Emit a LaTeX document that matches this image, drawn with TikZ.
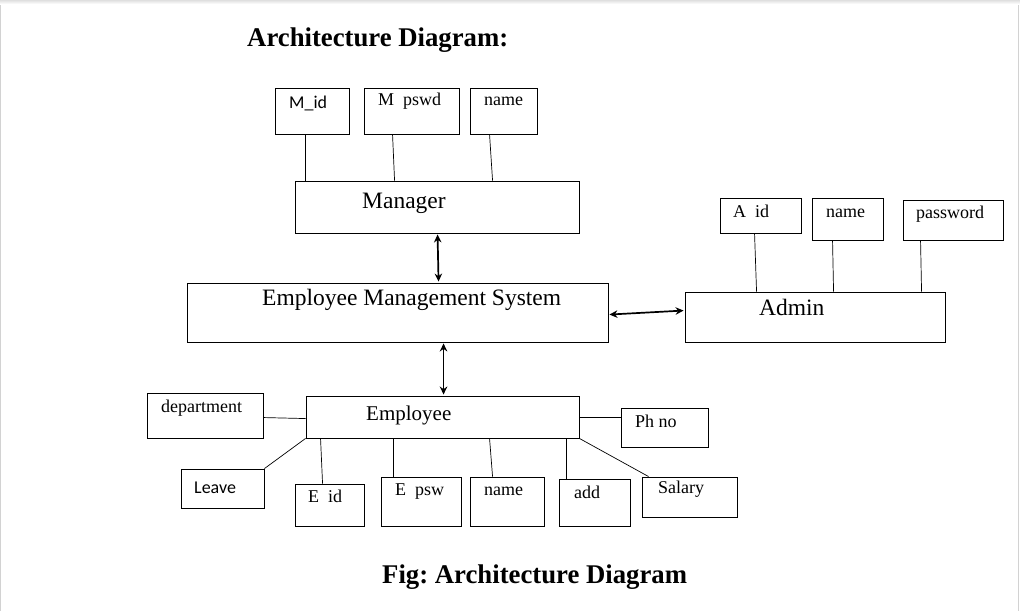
\documentclass[tikz,border=0pt]{standalone}
\usepackage{fontspec}
\setmainfont{Liberation Serif}
\newfontfamily\calfont{Carlito}
\usetikzlibrary{arrows.meta,calc}
\frenchspacing
\newcommand\rbox[5]{\node[ebox, minimum width={(#4-#2)*1pt}, minimum height={(#5-#3)*1pt}] (#1) at ({(#2+#4)/2},{(#3+#5)/2}) {};}
\begin{document}
\begin{tikzpicture}[x=1pt,y=-1pt,
  ebox/.style={draw, line width=0.9pt, inner sep=0pt, rectangle},
  lbl/.style={anchor=base west, inner sep=0pt, font=\fontsize{18}{20}\selectfont},
  big/.style={anchor=base west, inner sep=0pt, font=\fontsize{23.5}{26}\selectfont},
  ttl/.style={anchor=base west, inner sep=0pt, font=\bfseries\fontsize{27}{30}\selectfont},
  link/.style={line width=0.7pt},
  dbl/.style={line width=1.7pt, {Stealth[length=8pt,width=7.5pt]}-{Stealth[length=8pt,width=7.5pt]}}]
\useasboundingbox (0,0) rectangle (1020,611);
\draw[gray!35, line width=1pt] (0.5,0) -- (0.5,611);
\draw[gray!35, line width=1pt] (1018.5,0) -- (1018.5,611);
\shade[top color=gray!25, bottom color=white] (0,0) rectangle (1020,4);
% titles
\node[ttl, xscale=0.99] (title) at (247,46) {Architecture Diagram:};
\node[ttl, xscale=0.99] (caption) at (382,583) {Fig: Architecture Diagram};
% manager group
\rbox{mid}{275}{88}{349}{134}
\rbox{mpswd}{364}{88}{459}{134}
\rbox{mname}{470}{88}{537}{134}
\rbox{mgr}{295}{181}{579}{233}
\node[lbl, font=\calfont\fontsize{18}{20}\selectfont] (tmid) at (289,108) {M\_id};
\node[lbl] (tmpswd) at (378,105) {M\hspace{0.5em}pswd};
\node[lbl] (tmname) at (484,105) {name};
\node[big] (tmgr) at (362,208) {Manager};
\draw[link] ($(mid.south west)+(31,0)$) -- ($(mgr.north west)+(11,0)$);
\draw[link] ($(mpswd.south west)+(29,0)$) -- ($(mgr.north west)+(100,0)$);
\draw[link] ($(mname.south west)+(20,0)$) -- ($(mgr.north west)+(198,0)$);
% EMS
\rbox{ems}{187}{283}{608}{342}
\node[big] (tems) at (262,305) {Employee Management System};
% admin group
\rbox{aid}{720}{198}{801}{233}
\rbox{aname}{812}{198}{883}{240}
\rbox{apw}{903}{200}{1003}{240}
\rbox{adm}{685}{292}{945}{342}
\node[lbl] (taid) at (733,217) {A\hspace{0.5em}id};
\node[lbl] (taname) at (826,217) {name};
\node[lbl] (tapw) at (916,218) {password};
\node[big] (tadm) at (759,315) {Admin};
\draw[link] ($(aid.south west)+(35,0)$) -- ($(adm.north west)+(72,0)$);
\draw[link] ($(aname.south west)+(21,0)$) -- ($(adm.north west)+(149,0)$);
\draw[link] ($(apw.south west)+(18,0)$) -- ($(adm.north west)+(237,0)$);
% employee group
\rbox{emp}{306}{396}{579}{438}
\rbox{dept}{147}{393}{263}{438}
\rbox{leave}{181}{469}{264}{508}
\rbox{eid}{295}{484}{364}{526}
\rbox{epsw}{381}{477}{461}{526}
\rbox{ename}{470}{477}{544}{526}
\rbox{add}{559}{479}{630}{526}
\rbox{sal}{642}{477}{737}{517}
\rbox{ph}{621}{408}{708}{447}
\node[big, font=\fontsize{21}{24}\selectfont] (temp) at (366,420) {Employee};
\node[lbl] (tdept) at (161,412) {department};
\node[lbl, font=\calfont\fontsize{18}{20}\selectfont] (tleave) at (194,493) {Leave};
\node[lbl] (teid) at (308,502) {E\hspace{0.5em}id};
\node[lbl] (tepsw) at (395,495) {E\hspace{0.5em}psw};
\node[lbl] (tename) at (484,495) {name};
\node[lbl] (tadd) at (574,498) {add};
\node[lbl] (tsal) at (658,493) {Salary};
\node[lbl] (tph) at (635,427) {Ph no};
\draw[link] ($(dept.north east)+(0,25)$) -- ($(emp.north west)+(0,23)$);
\draw[link] (leave.north east) -- (emp.south west);
\draw[link] ($(emp.south west)+(15,0)$) -- ($(eid.north west)+(28,0)$);
\draw[link] ($(emp.south west)+(88,0)$) -- ($(epsw.north west)+(13,0)$);
\draw[link] ($(emp.south west)+(184,0)$) -- ($(ename.north west)+(23,0)$);
\draw[link] ($(emp.south west)+(261,0)$) -- ($(add.north west)+(8,0)$);
\draw[link] (emp.south east) -- ($(sal.north west)+(7,0)$);
\draw[link] ($(emp.north east)+(0,22)$) -- ($(ph.north west)+(0,10)$);
% arrows
\draw[dbl] ($(mgr.south west)+(143,1)$) -- ($(ems.north west)+(252,-1)$);
\draw[dbl] ($(ems.south west)+(257,1)$) -- ($(emp.north west)+(138,-1)$);
\draw[dbl] ($(ems.north east)+(1,32)$) -- ($(adm.north west)+(-1,19)$);
\end{tikzpicture}
\end{document}
